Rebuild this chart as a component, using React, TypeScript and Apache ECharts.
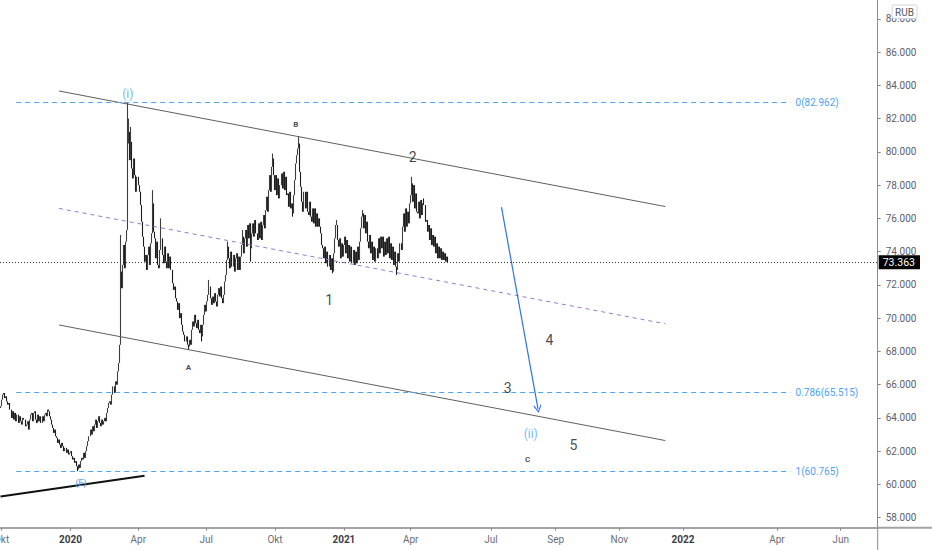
import React, { useEffect, useRef } from 'react';
import * as echarts from 'echarts';

// ---------------- DATA ----------------
// Daily closes (one value per weekday). Open of each candle = previous close.
// Sep 30 2019 - Feb 28 2020
const closesOct19Feb20 = [
  64.7, 65.1, 65.4, 65.5, 65.2,
  65.3, 65.0, 64.8, 64.9, 64.5,
  64.5, 64.0, 64.4, 63.9, 64.3,
  63.8, 64.2, 63.7, 64.1, 63.8,
  63.6, 64.0, 63.9, 63.9, 63.5,
  63.6, 63.8, 63.3, 63.9, 64.2,
  64.3, 63.8, 64.3, 64.4, 63.9,
  63.7, 64.2, 63.8, 64.1, 63.7,
  64.1, 63.8, 64.2, 64.3, 64.1,
  64.5, 64.4, 64.1, 63.9, 63.6,
  63.4, 63.1, 63.3, 62.9, 62.8,
  62.5, 62.7, 62.4, 62.2, 62.5,
  62.3, 62.0, 62.2, 61.9, 62.1,
  61.8, 61.9, 62.0, 61.7, 61.5,
  61.6, 61.3, 61.4, 61.1, 60.9,
  61.2, 61.0, 61.4, 61.6, 61.5,
  61.9, 61.6, 62.0, 62.3, 62.6,
  62.9, 63.3, 63.0, 63.5, 63.2,
  63.6, 63.9, 63.4, 63.8, 64.1,
  63.7, 63.5, 63.9, 63.6, 63.8,
  64.0, 63.8, 64.3, 64.6, 64.9,
  65.0, 64.8, 65.4, 65.9, 65.5,
];
// Mar 2 2020 - Jul 31 2020
const closesMar20Jul20 = [
  66.2, 66.0, 66.8, 67.3, 68.4,
  72.8, 71.8, 73.2, 74.4, 73.0,
  74.6, 75.3, 80.5, 81.2, 79.5,
  80.6, 79.0, 78.4, 79.6, 78.6,
  77.6, 78.5, 78.0, 77.6, 76.8,
  75.8, 74.9, 74.3, 73.4, 73.8,
  72.9, 73.8, 74.3, 73.2, 74.5,
  75.1, 76.9, 75.2, 74.8, 73.6,
  74.6, 73.2, 73.0, 74.1, 74.8,
  73.8, 73.3, 74.3, 73.4, 73.0,
  73.9, 73.0, 73.7, 72.9, 72.9,
  72.1, 71.7, 71.9, 71.2, 71.0,
  70.5, 70.9, 70.0, 70.3, 69.6,
  69.2, 69.0, 68.6, 68.9, 68.4,
  68.3, 68.7, 68.4, 69.3, 69.8,
  69.5, 70.2, 69.7, 69.4, 69.9,
  69.3, 69.1, 69.6, 68.9, 69.6,
  70.2, 70.8, 70.4, 71.0, 71.4,
  71.9, 71.2, 70.8, 71.3, 70.9,
  71.5, 71.0, 70.7, 71.4, 71.8,
  71.3, 71.9, 71.2, 70.9, 71.4,
  72.2, 72.6, 73.5, 74.3, 73.6,
];
// Aug 3 2020 - Jan 1 2021
const closesAug20Jan21 = [
  73.0, 74.0, 73.1, 73.8, 72.8,
  73.6, 73.9, 72.9, 73.7, 72.9,
  73.7, 74.4, 74.9, 73.9, 74.8,
  75.3, 74.3, 75.6, 74.8, 75.7,
  74.2, 75.1, 75.7, 74.9, 75.9,
  75.1, 74.7, 75.7, 74.8, 75.8,
  74.7, 75.6, 76.2, 75.4, 76.5,
  77.3, 76.4, 77.7, 78.6, 77.6,
  79.1, 79.6, 78.6, 77.7, 78.6,
  77.4, 78.4, 77.2, 78.0, 78.7,
  77.8, 78.8, 77.7, 78.5, 77.4,
  77.5, 76.7, 77.6, 76.6, 76.9,
  76.3, 77.4, 78.3, 79.3, 79.8,
  80.2, 80.5, 78.8, 77.9, 77.0,
  76.4, 77.6, 76.6, 77.6, 76.4,
  76.2, 77.0, 76.1, 75.8, 76.6,
  75.7, 76.6, 75.5, 76.3, 75.5,
  76.0, 75.5, 75.1, 74.4, 74.2,
  73.6, 74.3, 73.3, 74.0, 73.1,
  73.8, 72.9, 73.6, 72.8, 73.9,
  74.8, 75.6, 75.6, 74.7, 74.3,
  74.8, 73.6, 74.5, 73.7, 74.4,
];
// Jan 4 2021 - May 21 2021
const closesJan21May21 = [
  74.9, 73.9, 74.7, 73.6, 74.4,
  73.4, 74.3, 73.3, 74.1, 73.2,
  74.0, 73.3, 74.3, 73.5, 74.6,
  75.4, 76.1, 76.3, 75.4, 76.2,
  75.1, 75.8, 74.6, 74.2, 75.0,
  73.9, 74.6, 73.5, 74.3, 73.4,
  74.2, 73.6, 74.8, 73.9, 74.9,
  74.2, 74.9, 73.7, 74.6, 73.8,
  74.8, 73.9, 74.9, 73.6, 74.5,
  73.5, 74.3, 73.2, 74.0, 73.1,
  72.9, 73.9, 73.4, 74.5, 74.1,
  75.5, 76.3, 75.2, 76.6, 75.5,
  76.4, 75.7, 76.9, 77.4, 78.1,
  77.0, 78.0, 76.6, 77.5, 76.4,
  76.3, 77.0, 76.0, 77.1, 76.2,
  76.9, 76.8, 75.8, 75.9, 75.2,
  75.6, 74.7, 75.4, 74.4, 75.0,
  74.3, 74.9, 73.9, 74.5, 73.6,
  74.3, 73.6, 74.2, 73.5, 74.0,
  73.5, 73.9, 73.4, 73.7, 73.363,
];
const firstOpen = 64.6;

// Notable wick extremes
const highWicks: [string, number][] = [
  ['2020-03-09', 75.0], ['2020-03-18', 82.962], ['2020-03-19', 82.0], ['2020-03-23', 81.5],
  ['2020-04-21', 77.7], ['2020-05-01', 76.0], ['2020-07-06', 72.3], ['2020-07-30', 74.6],
  ['2020-08-19', 75.3], ['2020-09-29', 79.9], ['2020-11-03', 80.9], ['2020-12-23', 75.9],
  ['2021-01-27', 76.5], ['2021-04-02', 78.5], ['2021-04-20', 77.2],
];
const lowWicks: [string, number][] = [
  ['2020-01-10', 60.8], ['2020-06-08', 68.08], ['2020-06-25', 68.6], ['2020-08-31', 73.4],
  ['2020-10-26', 76.1], ['2020-12-17', 72.7], ['2021-03-15', 72.6],
];

const lastPrice = 73.363;

// Drawings (date, price)
const channelUpper: [string, number][] = [['2019-12-17', 83.66], ['2021-12-15', 76.71]];
const channelMiddle: [string, number][] = [['2019-12-17', 76.60], ['2021-12-15', 69.66]];
const channelLower: [string, number][] = [['2019-12-17', 69.59], ['2021-12-15', 62.64]];
const supportLine: [string, number][] = [['2019-09-30', 59.27], ['2020-04-09', 60.53]];
const projectionArrow: [string, number][] = [['2021-07-11', 76.68], ['2021-08-15', 64.54]];

const fibLevels = [
  { ratio: '0', price: 82.962 },
  { ratio: '0.786', price: 65.515 },
  { ratio: '1', price: 60.765 },
];
const fibSpan = ['2019-10-21', '2022-04-14'];

const waveCounts = [
  { text: '1', date: '2020-12-14', price: 71.09 },
  { text: '2', date: '2021-04-05', price: 79.69 },
  { text: '3', date: '2021-07-17', price: 65.78 },
  { text: '4', date: '2021-08-26', price: 68.69 },
  { text: '5', date: '2021-09-18', price: 62.37 },
];
const correctiveLabels = [
  { text: 'A', date: '2020-06-08', price: 67.06 },
  { text: 'B', date: '2020-10-29', price: 81.67 },
  { text: 'C', date: '2021-08-05', price: 61.51 },
];
const degreeLabels = [
  { text: '(i)', date: '2020-03-18', price: 83.48 },
  { text: '(ii)', date: '2021-08-08', price: 63.01 },
];
const minorLabels = [{ text: '(E)', date: '2020-01-15', price: 60.1 }];

const xTickLabels: [string, string][] = [
  ['2019-10-01', 'Okt'], ['2020-01-01', '2020'], ['2020-04-01', 'Apr'], ['2020-07-01', 'Jul'],
  ['2020-10-01', 'Okt'], ['2021-01-01', '2021'], ['2021-04-01', 'Apr'], ['2021-07-01', 'Jul'],
  ['2021-09-01', 'Sep'], ['2021-11-01', 'Nov'], ['2022-01-01', '2022'], ['2022-04-01', 'Apr'],
  ['2022-06-01', 'Jun'],
];
const yTicks = [58, 60, 62, 64, 66, 68, 70, 72, 74, 76, 78, 80, 82, 84, 86, 88];

// Axis time frame: trading days up to the last bar, then calendar days
const axisStart = [2019, 8, 30];
const lastBar = [2021, 4, 21];
const axisEnd = [2022, 6, 6];

function buildCategories(): string[] {
  const out: string[] = [];
  const d = new Date(Date.UTC(axisStart[0], axisStart[1], axisStart[2]));
  const last = Date.UTC(lastBar[0], lastBar[1], lastBar[2]);
  const end = Date.UTC(axisEnd[0], axisEnd[1], axisEnd[2]);
  while (d.getTime() <= end) {
    const dow = d.getUTCDay();
    if (d.getTime() > last || (dow !== 0 && dow !== 6)) out.push(d.toISOString().slice(0, 10));
    d.setUTCDate(d.getUTCDate() + 1);
  }
  return out;
}

const BLUE = '#4ea3f3';
const FONT = 'Roboto, "Noto Sans", "DejaVu Sans", sans-serif';

export default function App() {
  const ref = useRef<HTMLDivElement>(null);

  useEffect(() => {
    if (!ref.current) return;
    const chart = echarts.init(ref.current, null, { renderer: 'svg' });

    const categories = buildCategories();
    const idxOf = new Map<string, number>(categories.map((d, i) => [d, i]));
    const closes = [...closesOct19Feb20, ...closesMar20Jul20, ...closesAug20Jan21, ...closesJan21May21];
    const highMap = new Map(highWicks);
    const lowMap = new Map(lowWicks);
    const candles = closes.map((c, i) => {
      const o = i === 0 ? firstOpen : closes[i - 1];
      const d = categories[i];
      const h = Math.max(o, c, highMap.has(d) ? (highMap.get(d) as number) : -Infinity);
      const l = Math.min(o, c, lowMap.has(d) ? (lowMap.get(d) as number) : Infinity);
      return [o, c, l, h];
    });

    const seg = (pts: [string, number][]) => pts.map(([d, v]) => [idxOf.get(d), v]);
    const tickMap = new Map(xTickLabels);
    const isTick = (_i: number, v: string) => tickMap.has(v);

    const lineSeries = (pts: [string, number][], style: any) => ({
      type: 'line',
      data: seg(pts),
      symbol: 'none',
      silent: true,
      z: 3,
      lineStyle: style,
    });

    const labelSeries = (items: { text: string; date: string; price: number }[], label: any) => ({
      type: 'scatter',
      data: items.map((w) => ({ name: w.text, value: [idxOf.get(w.date), w.price] })),
      symbolSize: 1,
      itemStyle: { color: 'rgba(0,0,0,0)' },
      silent: true,
      z: 6,
      label: { show: true, position: 'inside', formatter: '{b}', fontFamily: FONT, ...label },
    });

    const fibMarks = fibLevels.map((f) => [
      { coord: [idxOf.get(fibSpan[0]), f.price], symbol: 'none' },
      {
        coord: [idxOf.get(fibSpan[1]), f.price],
        symbol: 'none',
        lineStyle: { color: BLUE, type: [5, 4], width: 1 },
        label: {
          show: true,
          position: 'end',
          formatter: `${f.ratio}(${f.price.toFixed(3)})`,
          color: BLUE,
          fontSize: 10,
          fontFamily: FONT,
          distance: 5,
        },
      },
    ]);

    const arrowMark = [
      { coord: [idxOf.get(projectionArrow[0][0]), projectionArrow[0][1]], symbol: 'none' },
      {
        coord: [idxOf.get(projectionArrow[1][0]), projectionArrow[1][1]],
        symbol: 'path://M5,0 L10,9 L9,10 L5,2.6 L1,10 L0,9 Z',
        symbolSize: [8, 8],
        lineStyle: { color: '#2f72ea', width: 1.2, type: 'solid' },
        label: { show: false },
      },
    ];

    const option: any = {
      animation: false,
      backgroundColor: '#ffffff',
      textStyle: { fontFamily: FONT },
      grid: { left: 0, right: 54.3, top: 0, bottom: 22.3, containLabel: false, outerBoundsMode: 'none' },
      xAxis: {
        type: 'category',
        data: categories,
        boundaryGap: true,
        axisLine: { show: true, lineStyle: { color: '#a3a3a3', width: 2 } },
        axisTick: { show: true, interval: isTick, alignWithLabel: true, length: 3, lineStyle: { color: '#8a8a8a' } },
        axisLabel: {
          interval: isTick,
          margin: 7,
          fontSize: 10,
          color: '#6a6d78',
          fontFamily: FONT,
          formatter: (v: string) => {
            const t = tickMap.get(v) || '';
            return /^\d{4}$/.test(t) ? `{yr|${t}}` : t;
          },
          rich: { yr: { fontWeight: 'bold', color: '#3b3d45', fontSize: 10, fontFamily: FONT } },
        },
        splitLine: { show: false },
      },
      yAxis: {
        type: 'value',
        position: 'right',
        min: 57.4,
        max: 89.13,
        axisLine: { show: true, lineStyle: { color: '#8a8a8a', width: 1 } },
        axisTick: { show: true, customValues: yTicks, length: 3, lineStyle: { color: '#8a8a8a' } },
        axisLabel: {
          customValues: yTicks,
          formatter: (v: number) => v.toFixed(3),
          fontSize: 10,
          color: '#5d606b',
          margin: 8,
          fontFamily: FONT,
        },
        splitLine: { show: false },
      },
      series: [
        {
          type: 'candlestick',
          data: candles,
          barWidth: 1,
          silent: true,
          z: 2,
          itemStyle: {
            color: '#3e3e3e',
            color0: '#1c1c1c',
            borderColor: '#3e3e3e',
            borderColor0: '#1c1c1c',
            borderWidth: 1.1,
          },
          markLine: {
            silent: true,
            symbol: ['none', 'none'],
            precision: 3,
            data: [
              {
                yAxis: lastPrice,
                lineStyle: { color: '#333', type: [1, 2], width: 1 },
                label: {
                  show: true,
                  position: 'end',
                  formatter: lastPrice.toFixed(3),
                  color: '#ffffff',
                  backgroundColor: '#000000',
                  padding: [2, 5, 1, 4],
                  fontSize: 10.5,
                  fontFamily: FONT,
                  distance: 1,
                },
              },
              ...fibMarks,
              arrowMark,
            ],
          },
        },
        lineSeries(channelUpper, { color: '#5f5f5f', width: 1 }),
        lineSeries(channelMiddle, { color: '#9a78c9', width: 1, type: [4, 4] }),
        lineSeries(channelLower, { color: '#5f5f5f', width: 1 }),
        lineSeries(supportLine, { color: '#111111', width: 2 }),
        labelSeries(waveCounts, { color: '#131722', fontSize: 14 }),
        labelSeries(correctiveLabels, { color: '#131722', fontSize: 8, fontWeight: 'bold' }),
        labelSeries(degreeLabels, { color: BLUE, fontSize: 12 }),
        labelSeries(minorLabels, { color: BLUE, fontSize: 9, fontWeight: 'bold' }),
      ],
      graphic: [
        { type: 'line', z: 50, shape: { x1: 877.7, y1: 527.7, x2: 932, y2: 527.7 }, style: { stroke: '#a3a3a3', lineWidth: 2 } },
        { type: 'line', z: 50, shape: { x1: 877.7, y1: 527.7, x2: 877.7, y2: 550 }, style: { stroke: '#8a8a8a', lineWidth: 1 } },
        {
          type: 'group',
          z: 100,
          children: [
            { type: 'rect', z: 100, shape: { x: 892, y: 5, width: 25, height: 13.5, r: 2 }, style: { fill: '#ffffff', stroke: '#d1d4dc', lineWidth: 1 } },
            { type: 'text', z: 101, x: 904.5, y: 12, style: { text: 'RUB', fill: '#55585f', fontSize: 10, fontFamily: FONT, align: 'center', verticalAlign: 'middle' } },
          ],
        },
      ],
    };

    chart.setOption(option);
    return () => chart.dispose();
  }, []);

  return (
    <div
      ref={ref}
      style={{ position: 'absolute', left: 0, top: 0, width: 932, height: 550, background: '#fff' }}
    />
  );
}
